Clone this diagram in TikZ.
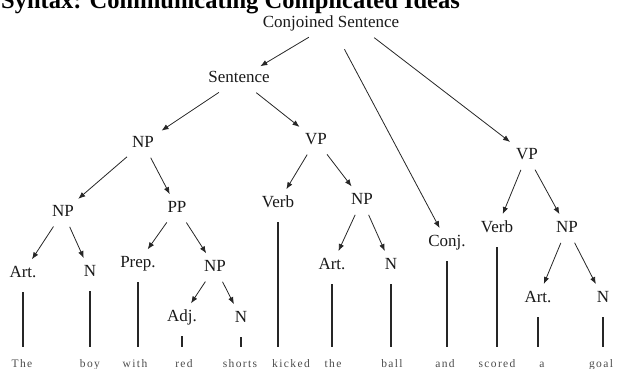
\documentclass[tikz,border=0pt]{standalone}
\usepackage{fontspec}
\setmainfont{Liberation Serif}
\newfontfamily\wordfont[LetterSpace=12]{Liberation Serif}
\usetikzlibrary{arrows.meta}

\begin{document}
\begin{tikzpicture}[x=1pt, y=-1pt, lab/.style={font=\fontsize{17}{17}\selectfont, text=black!90, text height=11pt, text depth=3pt, inner xsep=5pt, inner ysep=4pt}, word/.style={font=\wordfont\fontsize{11.5}{12}\selectfont, text=black!70, text height=8pt, text depth=2pt, inner sep=2pt, anchor=base}, arr/.style={-{Latex[length=7pt, width=5.5pt]}, line width=0.8pt, draw=black!85, shorten <=4pt, shorten >=3pt}, leaf/.style={line width=1.2pt, draw=black!85, shorten <=8pt, shorten >=10pt}]
            \useasboundingbox (0,0) rectangle (619,369);
            \clip (0,0) rectangle (619,369);
            % title
            \node[anchor=base west, inner sep=0pt, font=\fontsize{24.5}{25}\selectfont\bfseries] (title) at (1,9) {Syntax: Communicating Complicated Ideas};
            % nodes
            \node[lab] (cs) at (331,24) {Conjoined Sentence};
            \node[lab] (s) at (239,79) {Sentence};

            \node[lab] (np1) at (143,143) {NP};
            \node[lab] (vp1) at (316,140) {VP};
            \node[lab] (vp2) at (527,155) {VP};

            \node[lab] (np2) at (63,212) {NP};
            \node[lab] (pp) at (177,208) {PP};
            \node[lab] (verb1) at (278,203) {Verb};
            \node[lab] (np3) at (362,200) {NP};
            \node[lab] (conj) at (447,242) {Conj.};
            \node[lab] (verb2) at (497,228) {Verb};
            \node[lab] (np5) at (567,228) {NP};

            \node[lab] (art1) at (23,273) {Art.};
            \node[lab] (n1) at (90,272) {N};
            \node[lab] (prep) at (138,263) {Prep.};
            \node[lab] (np4) at (215,267) {NP};
            \node[lab] (adj) at (182,317) {Adj.};
            \node[lab] (n2) at (241,318) {N};
            \node[lab] (art2) at (332,265) {Art.};
            \node[lab] (n3) at (391,265) {N};
            \node[lab] (art3) at (538,298) {Art.};
            \node[lab] (n4) at (603,298) {N};
            % words
            \node[word] (w1) at (22,367) {The};
            \node[word] (w2) at (90,367) {boy};
            \node[word] (w3) at (135,367) {with};
            \node[word] (w4) at (184,367) {red};
            \node[word] (w5) at (240,367) {shorts};
            \node[word] (w6) at (291,367) {kicked};
            \node[word] (w7) at (333,367) {the};
            \node[word] (w8) at (392,367) {ball};
            \node[word] (w9) at (445,367) {and};
            \node[word] (w10) at (497,367) {scored};
            \node[word] (w11) at (542,367) {a};
            \node[word] (w12) at (601,367) {goal};
            % edges
            \draw [arr] (cs) -- (s);
            \draw [arr, shorten <=16pt] (cs) -- (conj);
            \draw [arr] ([xshift=40pt]cs.south) -- (vp2);

            \draw [arr] (s) -- (np1);
            \draw [arr] (s) -- (vp1);
            \draw [arr] (np1) -- (np2);
            \draw [arr] (np1) -- (pp);
            \draw [arr] (vp1) -- (verb1);
            \draw [arr] (vp1) -- (np3);
            \draw [arr] (vp2) -- (verb2);
            \draw [arr] (vp2) -- (np5);

            \draw [arr] (np2) -- (art1);
            \draw [arr] (np2) -- (n1);
            \draw [arr] (pp) -- (prep);
            \draw [arr] (pp) -- (np4);
            \draw [arr] (np4) -- (adj);
            \draw [arr] (np4) -- (n2);
            \draw [arr] (np3) -- (art2);
            \draw [arr] (np3) -- (n3);
            \draw [arr] (np5) -- (art3);
            \draw [arr] (np5) -- (n4);
            % lines down to the words
            \foreach \l/\w in {art1/w1, n1/w2, prep/w3, adj/w4, n2/w5, verb1/w6, art2/w7, n3/w8, conj/w9, verb2/w10, art3/w11, n4/w12}
                \draw [leaf] (\l) -- (\l |- \w.north);
        \end{tikzpicture}
\end{document}
